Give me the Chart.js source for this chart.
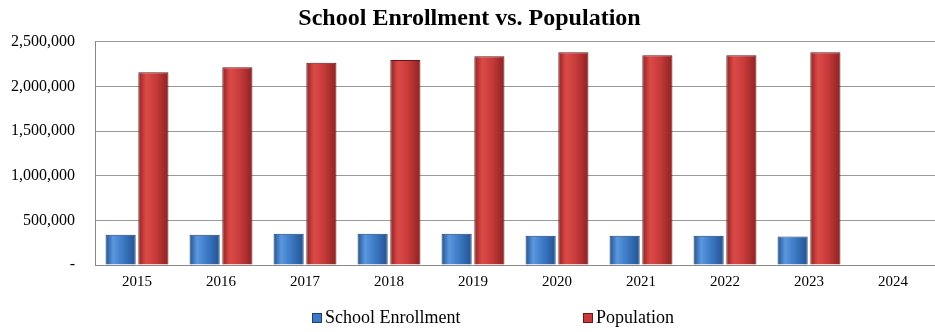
<!DOCTYPE html>
<html>
<head>
<meta charset="utf-8">
<script src="https://cdn.jsdelivr.net/npm/chart.js@4"></script>
<style>
  html, body { margin: 0; padding: 0; background: #fff; }
  #wrap { width: 935px; height: 332px; }
</style>
</head>
<body>
<div id="wrap"><canvas id="chart"></canvas></div>
<script>
const years = ['2015', '2016', '2017', '2018', '2019', '2020', '2021', '2022', '2023', '2024'];
const enrollment = [340000, 340000, 351000, 351000, 351000, 329000, 329000, 329000, 318000, null];
const population = [2160000, 2216000, 2264000, 2295000, 2339000, 2384000, 2350000, 2350000, 2384000, null];
const yTicks = [0, 500000, 1000000, 1500000, 2000000, 2500000];

const serif = "'Liberation Serif', 'Times New Roman', serif";
const catPct = 0.78;
const barPct = 0.92;

// horizontal shading so the bars look rounded like the Excel original
function shade(edge, mid, light) {
    return ctx => {
        const chart = ctx.chart;
        const x = chart.scales.x;
        if (!x || !chart.chartArea || ctx.dataIndex == null) return mid;
        const catW = x.getPixelForValue(1) - x.getPixelForValue(0);
        const group = catW * catPct;
        const slot = group / 2;
        const cx = x.getPixelForValue(ctx.dataIndex) - group / 2 + slot * (ctx.datasetIndex + 0.5);
        const half = slot * barPct / 2;
        const g = chart.ctx.createLinearGradient(cx - half, 0, cx + half, 0);
        g.addColorStop(0, edge);
        g.addColorStop(0.25, light);
        g.addColorStop(0.6, mid);
        g.addColorStop(1, edge);
        return g;
    };
}

const customLegend = {
    id: 'customLegend',
    afterDraw(chart) {
        const c = chart.ctx;
        const xs = [312, 583];
        const y = 318;
        c.save();
        c.font = '18px ' + serif;
        c.textBaseline = 'middle';
        chart.data.datasets.forEach((ds, i) => {
            c.fillStyle = ds.legendColor;
            c.fillRect(xs[i], y - 5, 10, 10);
            c.strokeStyle = ds.borderColor;
            c.lineWidth = 1;
            c.strokeRect(xs[i] + 0.5, y - 4.5, 9, 9);
            c.fillStyle = '#000';
            c.fillText(ds.label, xs[i] + 13, y);
        });
        c.restore();
    }
};

new Chart(document.getElementById('chart'), {
    type: 'bar',
    data: {
        labels: years,
        datasets: [
            {
                label: 'School Enrollment',
                data: enrollment,
                legendColor: '#3b78c6',
                backgroundColor: shade('#24528f', '#3a78c4', '#5b97e0'),
                borderColor: '#1c3f6e',
                borderWidth: 1,
                categoryPercentage: catPct,
                barPercentage: barPct
            },
            {
                label: 'Population',
                data: population,
                legendColor: '#c93a3b',
                backgroundColor: shade('#8e2222', '#c63a3a', '#dc4a48'),
                borderColor: '#6a1515',
                borderWidth: 1,
                categoryPercentage: catPct,
                barPercentage: barPct
            }
        ]
    },
    options: {
        responsive: true,
        maintainAspectRatio: false,
        animation: false,
        layout: { padding: { left: 4, right: 0, top: 0, bottom: 41 } },
        plugins: {
            title: {
                display: true,
                text: 'School Enrollment vs. Population',
                color: '#000',
                font: { family: serif, size: 24, weight: 'bold' },
                padding: { top: 4, bottom: 9 }
            },
            legend: { display: false },
            tooltip: { enabled: false }
        },
        scales: {
            x: {
                grid: { display: false },
                border: { color: '#888' },
                ticks: { color: '#000', padding: 0, font: { family: serif, size: 15 }, maxRotation: 0 }
            },
            y: {
                min: 0,
                max: 2500000,
                afterBuildTicks: axis => { axis.ticks = yTicks.map(v => ({ value: v })); },
                afterFit: axis => { axis.width = 91; },
                grid: { color: '#999', drawTicks: false },
                border: { color: '#888' },
                ticks: {
                    color: '#000',
                    padding: 20,
                    font: { family: serif, size: 16 },
                    callback: v => v === 0 ? '-' : v.toLocaleString('en-US')
                }
            }
        }
    },
    plugins: [customLegend]
});
</script>
</body>
</html>
